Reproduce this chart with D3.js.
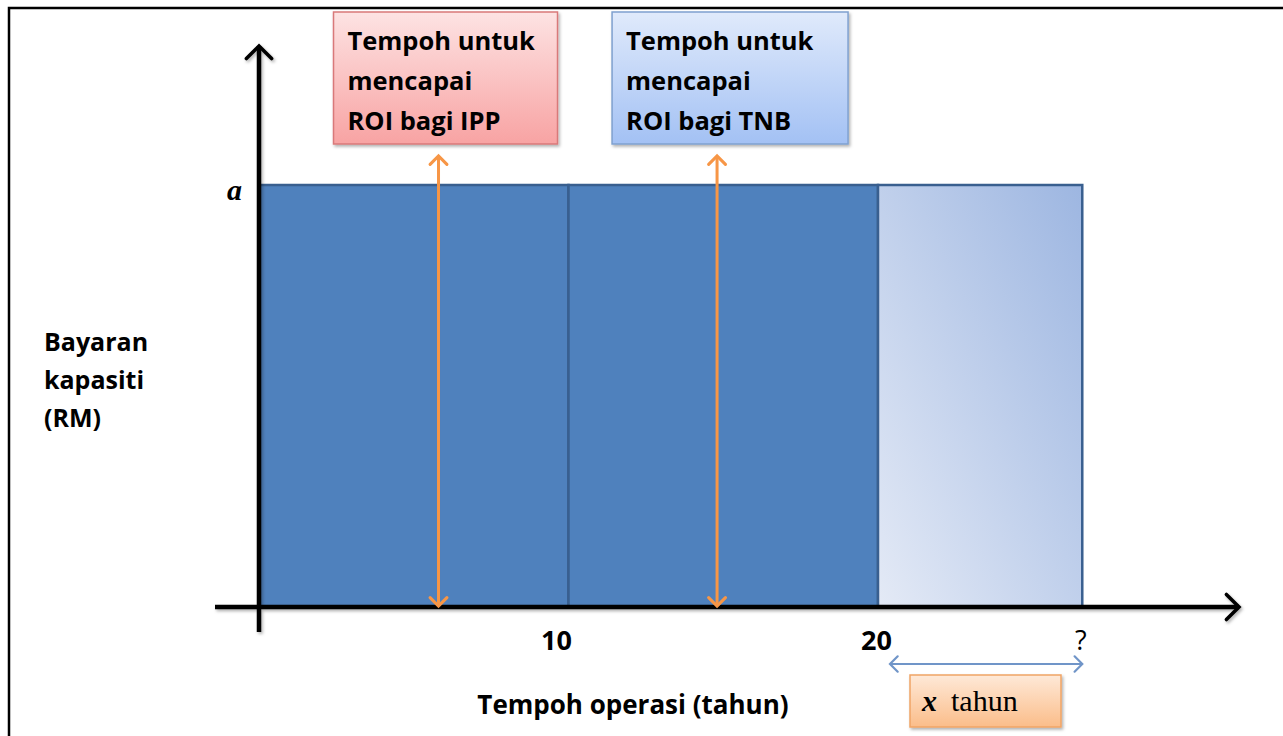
<!DOCTYPE html>
<html>
<head>
<meta charset="utf-8">
<script src="https://cdn.jsdelivr.net/npm/d3@7"></script>
<style>
  body { margin: 0; background: #fff; }
  svg { display: block; }
</style>
</head>
<body>
<script>

// capacity payment periods (years) and their level
var periodStart = [0, 10, 20];
var periodEnd = [10, 20, 26.6];
var periodKind = ["paid", "paid", "extra"];
var paymentLevel = 1; // "a"

var tickValues = [10, 20, 26.6];
var tickLabels = ["10", "20", "?"];

// when ROI is reached
var roiYears = [5.8, 14.8];
var roiText = [
	["Tempoh untuk", "mencapai", "ROI bagi IPP"],
	["Tempoh untuk", "mencapai", "ROI bagi TNB"]
];

var width = 1283, height = 736;

var svg = d3.select("body")
  .append("svg")
  .attr("width", width)
  .attr("height", height);

var defs = svg.append("defs");

function grad(id, c1, c2, x2, y2, x1, y1) {
	var g = defs.append("linearGradient").attr("id", id)
		.attr("x1", x1 || "0").attr("y1", y1 || "0")
		.attr("x2", x2).attr("y2", y2);
	g.append("stop").attr("offset", "0%").attr("stop-color", c1);
	g.append("stop").attr("offset", "100%").attr("stop-color", c2);
}
grad("gRed", "#fde3e3", "#f8a3a3", "0", "1");
grad("gBlue", "#e0eafb", "#a3c1f4", "0", "1");
grad("gOrange", "#fee9d8", "#fbbd8a", "0", "1");
grad("gExtra", "#e4eaf6", "#9db6e1", "1", "0", "0", "1");

var shadow = defs.append("filter").attr("id", "shadow")
	.attr("x", "-10%").attr("y", "-10%").attr("width", "130%").attr("height", "130%");
shadow.append("feDropShadow").attr("dx", 1.5).attr("dy", 2).attr("stdDeviation", 1.5)
	.attr("flood-color", "#000").attr("flood-opacity", 0.3);

function arrowMarker(id, color, w, sw) {
	var m = defs.append("marker").attr("id", id)
		.attr("viewBox", "-10 -10 20 20")
		.attr("refX", 0).attr("refY", 0)
		.attr("markerUnits", "userSpaceOnUse")
		.attr("markerWidth", w).attr("markerHeight", w)
		.attr("orient", "auto-start-reverse");
	m.append("path").attr("d", "M-7,-7 L0,0 L-7,7")
		.attr("fill", "none").attr("stroke", color)
		.attr("stroke-width", sw).attr("stroke-linecap", "round");
}
arrowMarker("arBlack", "#000", 36, 2);
arrowMarker("arOrange", "#f79646", 24, 2.6);
arrowMarker("arBlue", "#7095c8", 22, 2);

// frame
svg.append("path")
  .attr("d", "M9,736 L9,8 L1283,8")
  .attr("fill", "none").attr("stroke", "#000").attr("stroke-width", 2.5);

var xScale = d3.scaleLinear()
  .domain([0, 20])
  .range([259, 878]);

var yScale = d3.scaleLinear()
  .domain([0, paymentLevel])
  .range([607, 185]);

var periods = periodStart.map(function(s, i) {
	return { start: s, end: periodEnd[i], kind: periodKind[i] };
});

svg.selectAll("rect.period")
  .data(periods)
  .enter()
  .append("rect")
	.attr("class", "period")
	.attr("x", function(d) { return xScale(d.start); })
	.attr("y", yScale(paymentLevel))
	.attr("width", function(d) { return xScale(d.end) - xScale(d.start); })
	.attr("height", yScale(0) - yScale(paymentLevel))
	.attr("fill", function(d) { return d.kind == "paid" ? "#4f81bd" : "url(#gExtra)"; })
	.attr("stroke", "#395f8f")
	.attr("stroke-width", 2.5);

// axes
var axisG = svg.append("g").attr("filter", "url(#shadow)");
axisG.append("line")
  .attr("x1", xScale(0)).attr("y1", yScale(0) + 25)
  .attr("x2", xScale(0)).attr("y2", 46)
  .attr("stroke", "#000").attr("stroke-width", 4.5)
  .attr("marker-end", "url(#arBlack)");
axisG.append("line")
  .attr("x1", xScale(0) - 44).attr("y1", yScale(0))
  .attr("x2", 1239).attr("y2", yScale(0))
  .attr("stroke", "#000").attr("stroke-width", 4.5)
  .attr("marker-end", "url(#arBlack)");

var xAxis = svg.append("g")
  .attr("transform", "translate(0," + (yScale(0) + 40) + ")")
  .call(d3.axisBottom(xScale).tickValues(tickValues).tickSize(0)
	.tickFormat(function(d, i) { return tickLabels[i]; }));
xAxis.select(".domain").remove();
xAxis.selectAll("text")
  .attr("font-family", "'Open Sans', sans-serif")
  .attr("font-size", 27)
  .attr("font-weight", function(d, i) { return i < 2 ? "bold" : "normal"; })
  .attr("fill", "#000")
  .attr("text-anchor", function(d, i) { return i == 0 ? "end" : "middle"; })
  .attr("dx", function(d, i) { return i == 0 ? 3 : -2; })
  .attr("dy", "0");

// "a" level label
svg.append("text")
  .attr("x", 227).attr("y", yScale(paymentLevel) + 15)
  .attr("font-family", "'Liberation Serif', serif")
  .attr("font-style", "italic").attr("font-weight", "bold")
  .attr("font-size", 30)
  .text("a");

// y title
var yTitle = svg.append("text")
  .attr("font-family", "'Open Sans', sans-serif")
  .attr("font-weight", "bold").attr("font-size", 25);
["Bayaran", "kapasiti", "(RM)"].forEach(function(t, i) {
	yTitle.append("tspan").attr("x", 44).attr("y", 351 + i * 38).text(t);
});

// x title
svg.append("text")
  .attr("x", 633).attr("y", 714)
  .attr("text-anchor", "middle")
  .attr("font-family", "'Open Sans', sans-serif")
  .attr("font-weight", "bold").attr("font-size", 26)
  .text("Tempoh operasi (tahun)");

// ROI boxes and arrows
var boxFill = ["url(#gRed)", "url(#gBlue)"];
var boxStroke = ["#d9797a", "#7fa0cf"];
var boxW = [224, 236];

var roi = svg.selectAll("g.roi")
  .data(roiYears)
  .enter()
  .append("g")
	.attr("class", "roi");

roi.append("rect")
  .attr("x", function(d) { return xScale(d) - 105; })
  .attr("y", 12)
  .attr("width", function(d, i) { return boxW[i]; })
  .attr("height", 132)
  .attr("fill", function(d, i) { return boxFill[i]; })
  .attr("stroke", function(d, i) { return boxStroke[i]; })
  .attr("stroke-width", 1.5)
  .attr("filter", "url(#shadow)");

roi.each(function(d, i) {
	var t = d3.select(this).append("text")
	  .attr("font-family", "'Open Sans', sans-serif")
	  .attr("font-weight", "bold").attr("font-size", 25.5);
	roiText[i].forEach(function(line, j) {
		t.append("tspan").attr("x", xScale(d) - 91).attr("y", 50 + j * 40).text(line);
	});
});

roi.append("line")
  .attr("x1", function(d) { return xScale(d); })
  .attr("x2", function(d) { return xScale(d); })
  .attr("y1", 156)
  .attr("y2", yScale(0) - 1)
  .attr("stroke", "#f79646")
  .attr("stroke-width", 3)
  .attr("marker-start", "url(#arOrange)")
  .attr("marker-end", "url(#arOrange)");

// extra years span
svg.append("line")
  .attr("x1", xScale(periodStart[2]) + 12).attr("y1", 664)
  .attr("x2", xScale(periodEnd[2])).attr("y2", 664)
  .attr("stroke", "#7095c8").attr("stroke-width", 2)
  .attr("marker-start", "url(#arBlue)")
  .attr("marker-end", "url(#arBlue)");

svg.append("rect")
  .attr("x", 910).attr("y", 675)
  .attr("width", 151).attr("height", 52)
  .attr("fill", "url(#gOrange)")
  .attr("stroke", "#f0a465").attr("stroke-width", 1.5)
  .attr("filter", "url(#shadow)");

var xt = svg.append("text")
  .attr("x", 922).attr("y", 711)
  .attr("font-family", "'Liberation Serif', serif")
  .attr("font-size", 30);
xt.append("tspan").attr("font-style", "italic").attr("font-weight", "bold").text("x");
xt.append("tspan").attr("dx", 14).text("tahun");

</script>
</body>
</html>
